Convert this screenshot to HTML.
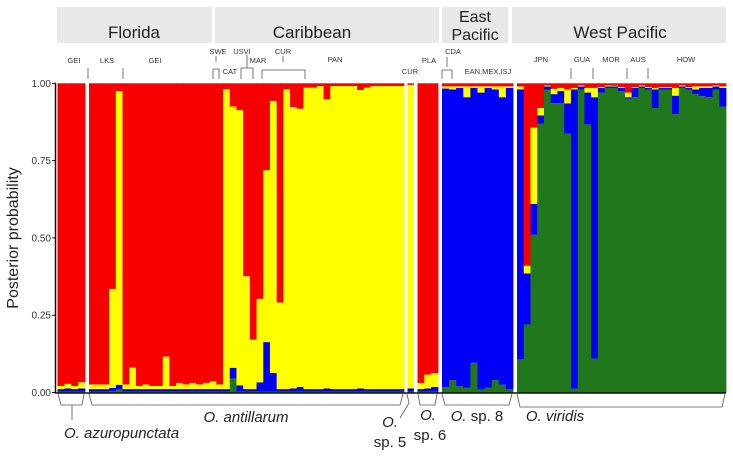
<!DOCTYPE html>
<html><head><meta charset="utf-8"><style>
body{margin:0;background:#fff;}
svg{display:block;font-family:"Liberation Sans",sans-serif;}
</style></head><body>
<svg id="chart" width="733" height="456" viewBox="0 0 733 456">
<g id="headers">
<rect x="57" y="7" width="155" height="36" fill="#e8e8e8"/>
<text x="134" y="38" font-size="17" text-anchor="middle" fill="#222">Florida</text>
<rect x="215" y="7" width="224" height="36" fill="#e8e8e8"/>
<text x="312" y="38" font-size="17" text-anchor="middle" fill="#222">Caribbean</text>
<rect x="442" y="7" width="66" height="36" fill="#e8e8e8"/>
<text x="475" y="22" font-size="16" text-anchor="middle" fill="#222">East</text>
<text x="475" y="40" font-size="16" text-anchor="middle" fill="#222">Pacific</text>
<rect x="512" y="7" width="214" height="36" fill="#e8e8e8"/>
<text x="620" y="38" font-size="17" text-anchor="middle" fill="#222">West Pacific</text>
</g>
<g font-size="7.5" fill="#333" text-anchor="middle">
<text x="74" y="63">GEI</text>
<text x="107" y="63">LKS</text>
<text x="155" y="63">GEI</text>
<text x="218" y="54">SWE</text>
<text x="230" y="74">CAT</text>
<text x="242" y="54">USVI</text>
<text x="258" y="63">MAR</text>
<text x="283" y="54">CUR</text>
<text x="335" y="62">PAN</text>
<text x="410" y="74">CUR</text>
<text x="429" y="63">PLA</text>
<text x="453" y="54">CDA</text>
<text x="488" y="74">EAN,MEX,ISJ</text>
<text x="541" y="62">JPN</text>
<text x="582" y="62">GUA</text>
<text x="611" y="62">MOR</text>
<text x="638" y="62">AUS</text>
<text x="686" y="62">HOW</text>
</g>
<g stroke="#555" stroke-width="0.8" fill="none">
<path d="M88 68V79M123 68V79"/>
<path d="M216 56V62M213 79V69H219V79"/>
<path d="M247 55V68M241 79V68H253V79"/>
<path d="M283 56V62M262 79V70H305V79"/>
<path d="M447 57V67M442 79V70H452V79"/>
<path d="M571 68V79M593 68V79M627 68V79M648 68V79"/>
</g>
<g id="bars"></g>
<g id="axes"></g>
<g stroke="#555" stroke-width="0.8" fill="none">
<path d="M58 394L61 405H82L84 394M72 405V420"/>
<path d="M89 394L92 405H400L403 394"/>
<path d="M407 394L409 403M409 403L400 418"/>
<path d="M418 394L420 405H435L437 394"/>
<path d="M442 394L445 405H509L512 394"/>
<path d="M517 394L520 407H722L725 394"/>
</g>
<g font-size="15" font-style="italic" fill="#222">
<text x="64" y="438">O. azuropunctata</text>
<text x="246" y="422" text-anchor="middle">O. antillarum</text>
<text x="390" y="427" text-anchor="middle">O.</text>
<text x="390" y="447" text-anchor="middle" font-style="normal">sp. 5</text>
<text x="428" y="420" text-anchor="middle">O.</text>
<text x="430" y="440" text-anchor="middle" font-style="normal">sp. 6</text>
<text x="477" y="421" text-anchor="middle">O. <tspan font-style="normal">sp. 8</tspan></text>
<text x="555" y="421" text-anchor="middle">O. viridis</text>
</g>
<text transform="translate(18,238) rotate(-90)" font-size="16" text-anchor="middle" fill="#222">Posterior probability</text>
</svg>
<script>
// proportions per individual (red = remainder)
const azuGreen=[0.003,0.003,0.003,0.003];
const azuBlue=[0.008,0.01,0.008,0.01];
const azuYellow=[0.01,0.015,0.01,0.02];
const antYellow=[0.015,0.015,0.015,0.32,0.95,0.015,0.07,0.01,0.015,0.01,0.01,0.105,0.01,0.02,0.015,0.02,0.015,0.02,0.025,0.015,0.97,0.845,0.89,0.365,0.16,0.27,0.556,0.88,0.28,0.97,0.91,0.90,0.975,0.975,0.98,0.935,0.98,0.98,0.98,0.98,0.965,0.975,0.98,0.98,0.98,0.98,0.98];
const antBlue=[0.008,0.008,0.008,0.01,0.015,0.008,0.008,0.008,0.008,0.008,0.008,0.008,0.008,0.008,0.008,0.008,0.008,0.008,0.008,0.008,0.008,0.035,0.02,0.008,0.008,0.03,0.16,0.06,0.008,0.008,0.01,0.015,0.008,0.008,0.008,0.01,0.008,0.008,0.008,0.008,0.01,0.008,0.008,0.008,0.008,0.008,0.008];
const antGreen=[0.003,0.003,0.003,0.005,0.01,0.003,0.003,0.003,0.003,0.003,0.003,0.003,0.003,0.003,0.003,0.003,0.003,0.003,0.003,0.003,0.003,0.045,0.003,0.003,0.003,0.003,0.003,0.003,0.003,0.003,0.003,0.003,0.003,0.003,0.003,0.003,0.003,0.003,0.003,0.003,0.003,0.003,0.003,0.003,0.003,0.003,0.003];
const sp5Green=[0.003];
const sp5Blue=[0.01];
const sp5Yellow=[0.982];
const sp6Green=[0.003,0.003,0.003];
const sp6Blue=[0.008,0.01,0.015];
const sp6Yellow=[0.02,0.045,0.045];
const sp8Green=[0.017,0.04,0.02,0.015,0.096,0.01,0.015,0.04,0.025,0.01];
const sp8Blue=[0.966,0.94,0.965,0.94,0.889,0.96,0.97,0.94,0.93,0.975];
const sp8Yellow=[0.007,0.01,0.005,0.035,0.005,0.02,0.005,0.01,0.035,0.005];
const virGreen=[0.107,0.22,0.51,0.87,0.98,0.936,0.936,0.837,0.012,0.98,0.867,0.11,0.97,0.985,0.985,0.975,0.95,0.955,0.985,0.98,0.92,0.98,0.98,0.9,0.985,0.98,0.965,0.958,0.955,0.98,0.925];
const virBlue=[0.873,0.165,0.10,0.026,0.01,0.029,0.039,0.098,0.968,0.01,0.103,0.845,0.015,0.005,0.005,0.01,0.005,0.03,0.005,0.005,0.06,0.005,0.005,0.06,0.005,0.005,0.015,0.027,0.03,0.01,0.06];
const virYellow=[0.01,0.025,0.247,0.024,0.003,0.017,0.01,0.045,0.005,0.003,0.015,0.03,0.003,0.003,0.002,0.003,0.015,0.003,0.003,0.003,0.005,0.003,0.003,0.025,0.003,0.003,0.01,0.005,0.005,0.003,0.005];
const yTicks=[0,0.25,0.5,0.75,1];
const yTickLabels=["0.00","0.25","0.50","0.75","1.00"];

const NS='http://www.w3.org/2000/svg';
const Y0=392.5,Y1=83.3;
function y(v){return Y0-(Y0-Y1)*v;}
const groups=[
 {name:'azuropunctata',x0:57.5,x1:85,g:azuGreen,b:azuBlue,yl:azuYellow},
 {name:'antillarum',x0:89,x1:404,g:antGreen,b:antBlue,yl:antYellow},
 {name:'sp5',x0:407.5,x1:413.5,g:sp5Green,b:sp5Blue,yl:sp5Yellow},
 {name:'sp6',x0:417.5,x1:438,g:sp6Green,b:sp6Blue,yl:sp6Yellow},
 {name:'sp8',x0:442,x1:513,g:sp8Green,b:sp8Blue,yl:sp8Yellow},
 {name:'viridis',x0:517,x1:726,g:virGreen,b:virBlue,yl:virYellow}
];
const cols={green:'#21781c',blue:'#0000fa',yellow:'#ffff00',red:'#f70000'};
const barsG=document.getElementById('bars');
function rect(x,w,a,b,fill,name){
 const r=document.createElementNS(NS,'rect');
 r.setAttribute('x',x);r.setAttribute('width',w+0.4);
 r.setAttribute('y',y(b));r.setAttribute('height',Math.max(0,y(a)-y(b)));
 r.setAttribute('fill',fill);
 
 
 barsG.appendChild(r);
}
groups.forEach(gr=>{
 const n=gr.g.length,w=(gr.x1-gr.x0)/n;
 for(let i=0;i<n;i++){
  const x=gr.x0+i*w;
  const g=gr.g[i],b=gr.b[i],yl=gr.yl[i];
  rect(x,w,0,g,cols.green,'bar-'+gr.name+'-'+i+'-green');
  rect(x,w,g,g+b,cols.blue,'bar-'+gr.name+'-'+i+'-blue');
  rect(x,w,g+b,g+b+yl,cols.yellow,'bar-'+gr.name+'-'+i+'-yellow');
  rect(x,w,g+b+yl,1,cols.red,'bar-'+gr.name+'-'+i+'-red');
 }
});
const ax=document.getElementById('axes');
function line(x1,y1,x2,y2,w,name){
 const l=document.createElementNS(NS,'line');
 l.setAttribute('x1',x1);l.setAttribute('y1',y1);l.setAttribute('x2',x2);l.setAttribute('y2',y2);
 l.setAttribute('stroke','#111');l.setAttribute('stroke-width',w);
 
 
 ax.appendChild(l);
}
line(55.5,Y1,55.5,Y0+1,1.5,'y-axis-line');
line(55,Y0+0.5,726,Y0+0.5,1.5,'x-axis-line');
yTicks.forEach((v,i)=>{
 line(52,y(v),56,y(v),1,'y-tick');
 const t=document.createElementNS(NS,'text');
 t.setAttribute('x',51);t.setAttribute('y',y(v)+3.5);
 t.setAttribute('text-anchor','end');t.setAttribute('font-size','10');t.setAttribute('fill','#333');
 
 
 t.textContent=yTickLabels[i];
 ax.appendChild(t);
});
</script>
</body></html>
